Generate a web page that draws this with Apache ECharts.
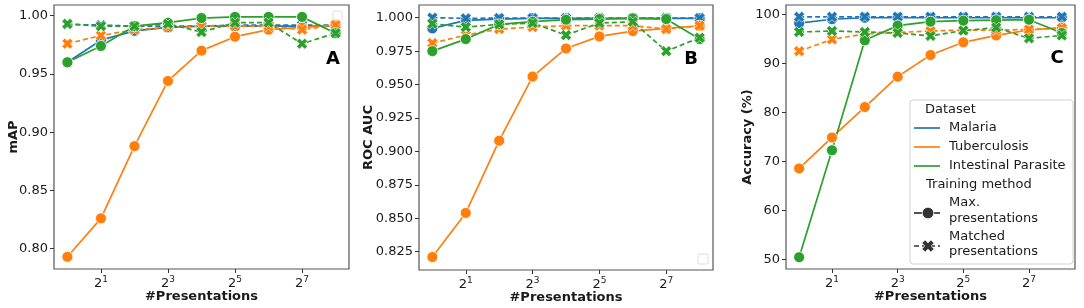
<!DOCTYPE html>
<html>
<head>
<meta charset="utf-8">
<script src="https://cdn.jsdelivr.net/npm/echarts@6/dist/echarts.min.js"></script>
<style>
  html, body { margin: 0; padding: 0; background: #fff; }
  #chart { width: 1084px; height: 308px; }
</style>
</head>
<body>
<div id="chart"></div>
<script>
// number of presentations (x), drawn on a log2 scale
const presentations = [1, 2, 4, 8, 16, 32, 64, 128, 256];
const datasets = ['Malaria', 'Tuberculosis', 'Intestinal Parasite'];
const colors = ['#1f77b4', '#ff7f0e', '#2ca02c'];
const xTickExps = [1, 3, 5, 7];

// A - mAP
const mapMalariaMax     = [0.960, 0.979, 0.987, 0.990, 0.991, 0.991, 0.991, 0.991, 0.991];
const mapMalariaMatched = [0.9925, 0.992, 0.991, 0.991, 0.991, 0.992, 0.992, 0.992, 0.992];
const mapTbMax          = [0.793, 0.826, 0.888, 0.944, 0.970, 0.982, 0.988, 0.990, 0.992];
const mapTbMatched      = [0.976, 0.983, 0.988, 0.990, 0.991, 0.991, 0.991, 0.988, 0.992];
const mapIpMax          = [0.960, 0.974, 0.991, 0.994, 0.998, 0.999, 0.999, 0.999, 0.985];
const mapIpMatched      = [0.993, 0.991, 0.991, 0.993, 0.986, 0.994, 0.994, 0.976, 0.985];
const mapTicks = [0.80, 0.85, 0.90, 0.95, 1.00];

// B - ROC AUC
const aucMalariaMax     = [0.992, 0.998, 0.999, 0.9995, 0.9995, 0.9995, 0.9995, 0.9995, 0.9995];
const aucMalariaMatched = [1.000, 0.9995, 0.9997, 0.9997, 0.9997, 0.9997, 0.9997, 0.9997, 0.9997];
const aucTbMax          = [0.821, 0.854, 0.908, 0.956, 0.977, 0.986, 0.990, 0.992, 0.994];
const aucTbMatched      = [0.981, 0.987, 0.9915, 0.993, 0.994, 0.994, 0.994, 0.9915, 0.994];
const aucIpMax          = [0.975, 0.984, 0.995, 0.997, 0.9985, 0.999, 0.9995, 0.999, 0.984];
const aucIpMatched      = [0.9955, 0.993, 0.995, 0.996, 0.987, 0.996, 0.997, 0.975, 0.985];
const aucTicks = [0.825, 0.850, 0.875, 0.900, 0.925, 0.950, 0.975, 1.000];

// C - Accuracy (%)
const accMalariaMax     = [98.2, 99.0, 99.3, 99.3, 99.3, 99.3, 99.3, 99.3, 99.3];
const accMalariaMatched = [99.5, 99.5, 99.5, 99.5, 99.5, 99.5, 99.5, 99.5, 99.5];
const accTbMax          = [68.6, 74.9, 81.1, 87.3, 91.7, 94.3, 95.7, 96.8, 97.3];
const accTbMatched      = [92.5, 94.9, 96.0, 96.3, 96.6, 96.8, 96.8, 96.9, 97.2];
const accIpMax          = [50.5, 72.3, 94.7, 97.7, 98.5, 98.7, 98.8, 98.9, 96.2];
const accIpMatched      = [96.4, 96.6, 96.4, 96.2, 95.6, 96.7, 97.3, 95.1, 95.7];
const accTicks = [50, 60, 70, 80, 90, 100];

const FONT = 'DejaVu Sans';
const TXT = '#1a1a1a';
const xSymbol = 'path://M0,2.6 L2.6,0 L5,2.4 L7.4,0 L10,2.6 L7.6,5 L10,7.4 L7.4,10 L5,7.6 L2.6,10 L0,7.4 L2.4,5 Z';
const xPoly = [[0,2.6],[2.6,0],[5,2.4],[7.4,0],[10,2.6],[7.6,5],[10,7.4],[7.4,10],[5,7.6],[2.6,10],[0,7.4],[2.4,5]];

var chart = echarts.init(document.getElementById('chart'));

var grids = [
  { left: 54, top: 5, width: 295, height: 264 },
  { left: 419, top: 5, width: 294, height: 265 },
  { left: 786, top: 5, width: 289, height: 264 }
];

function toPoints(vals) {
  return presentations.map((p, i) => [Math.log2(p), vals[i]]);
}

function makeSeries(gi, panel) {
  var out = [];
  panel.forEach(function (pair, d) {
    out.push({
      type: 'line', xAxisIndex: gi, yAxisIndex: gi,
      name: datasets[d] + ' max',
      data: toPoints(pair[0]),
      symbol: 'circle', symbolSize: 11,
      lineStyle: { color: colors[d], width: 1.7 },
      itemStyle: { color: colors[d], borderColor: '#fff', borderWidth: 0.8 },
      animation: false
    });
    out.push({
      type: 'line', xAxisIndex: gi, yAxisIndex: gi,
      name: datasets[d] + ' matched',
      data: toPoints(pair[1]),
      symbol: xSymbol, symbolSize: 11,
      lineStyle: { color: colors[d], width: 1.7, type: [5, 3] },
      itemStyle: { color: colors[d], borderColor: '#fff', borderWidth: 0.6 },
      animation: false
    });
  });
  return out;
}

function xAxisFor(gi) {
  return {
    type: 'value', gridIndex: gi, min: -0.4, max: 8.4,
    name: '#Presentations', nameLocation: 'middle', nameGap: 21, nameMoveOverlap: false,
    nameTextStyle: { fontFamily: FONT, fontSize: 13, fontWeight: 'bold', color: TXT },
    axisLine: { show: false, onZero: false },
    splitLine: { show: false },
    axisTick: { show: true, inside: false, customValues: xTickExps, length: 4, lineStyle: { color: '#333' } },
    axisLabel: {
      customValues: xTickExps, margin: 6,
      formatter: function (v) { return '{b|2}{s|' + v + '}'; },
      rich: {
        b: { fontFamily: FONT, fontSize: 13, color: TXT },
        s: { fontFamily: FONT, fontSize: 9, color: TXT, padding: [0, 0, 9, 0] }
      }
    }
  };
}

function yAxisFor(gi, name, min, max, ticks, digits, gap) {
  return {
    type: 'value', gridIndex: gi, min: min, max: max,
    name: name, nameLocation: 'middle', nameGap: gap, nameMoveOverlap: false,
    nameTextStyle: { fontFamily: FONT, fontSize: 13, fontWeight: 'bold', color: TXT },
    axisLine: { show: false, onZero: false },
    splitLine: { show: false },
    axisTick: { show: true, inside: false, customValues: ticks, length: 4, lineStyle: { color: '#333' } },
    axisLabel: {
      customValues: ticks, margin: 6,
      fontFamily: FONT, fontSize: 13, color: TXT,
      formatter: function (v) { return v.toFixed(digits); }
    }
  };
}

var series = []
  .concat(makeSeries(0, [[mapMalariaMax, mapMalariaMatched], [mapTbMax, mapTbMatched], [mapIpMax, mapIpMatched]]))
  .concat(makeSeries(1, [[aucMalariaMax, aucMalariaMatched], [aucTbMax, aucTbMatched], [aucIpMax, aucIpMatched]]))
  .concat(makeSeries(2, [[accMalariaMax, accMalariaMatched], [accTbMax, accTbMatched], [accIpMax, accIpMatched]]));

// legend drawn by hand (seaborn style, two titled groups)
var lgX = 910, lgY = 100;
var legendEls = [
  { type: 'rect', shape: { x: lgX, y: lgY, width: 163, height: 164, r: 3 },
    style: { fill: 'rgba(255,255,255,0.85)', stroke: '#d0d0d0', lineWidth: 1 }, z: 100 }
];
function lgText(txt, x, y) {
  legendEls.push({ type: 'text', x: x, y: y, z: 101,
    style: { text: txt, fontFamily: FONT, fontSize: 13, fill: TXT, verticalAlign: 'middle' } });
}
lgText('Dataset', 925, 110);
datasets.forEach(function (d, i) {
  var yy = 128 + i * 19;
  legendEls.push({ type: 'line', z: 101, shape: { x1: 914, y1: yy, x2: 940, y2: yy },
    style: { stroke: colors[i], lineWidth: 1.7 } });
  lgText(d, 949, yy);
});
lgText('Training method', 926, 185);
legendEls.push({ type: 'line', z: 101, shape: { x1: 914, y1: 213, x2: 940, y2: 213 },
  style: { stroke: '#333', lineWidth: 1.7 } });
legendEls.push({ type: 'circle', z: 102, shape: { cx: 928, cy: 213, r: 5.8 },
  style: { fill: '#333', stroke: '#fff', lineWidth: 0.8 } });
lgText('Max.', 949, 203);
lgText('presentations', 949, 219);
legendEls.push({ type: 'line', z: 101, shape: { x1: 914, y1: 246, x2: 940, y2: 246 },
  style: { stroke: '#333', lineWidth: 1.7, lineDash: [5, 3] } });
legendEls.push({ type: 'polygon', z: 102,
  shape: { points: xPoly.map(function (p) { return [922 + p[0] * 1.2, 240 + p[1] * 1.2]; }) },
  style: { fill: '#333', stroke: '#fff', lineWidth: 0.6 } });
lgText('Matched', 949, 237);
lgText('presentations', 949, 252);

// panel letters and empty legend boxes
function letter(t, x, y) {
  return { type: 'text', x: x, y: y, z: 50,
    style: { text: t, fontFamily: FONT, fontSize: 18, fontWeight: 'bold', fill: '#000', align: 'center', verticalAlign: 'middle' } };
}
var extras = [
  letter('A', 333, 59), letter('B', 691, 59), letter('C', 1057, 58),
  { type: 'rect', z: 50, shape: { x: 333, y: 11, width: 9, height: 9, r: 1.5 }, style: { fill: '#fff', stroke: '#ddd', lineWidth: 1 } },
  { type: 'rect', z: 50, shape: { x: 698, y: 254, width: 10, height: 10, r: 1.5 }, style: { fill: '#fff', stroke: '#ddd', lineWidth: 1 } }
];

var option = {
  backgroundColor: '#fff',
  animation: false,
  grid: grids.map(function (g) {
    return Object.assign({ show: true, borderColor: '#555', borderWidth: 1.2, backgroundColor: '#fff',
      containLabel: false, outerBoundsMode: 'none' }, g);
  }),
  xAxis: [xAxisFor(0), xAxisFor(1), xAxisFor(2)],
  yAxis: [
    yAxisFor(0, 'mAP', 0.7825, 1.0092, mapTicks, 2, 34),
    yAxisFor(1, 'ROC AUC', 0.8113, 1.0095, aucTicks, 3, 44),
    yAxisFor(2, 'Accuracy (%)', 48.1, 101.9, accTicks, 0, 32)
  ],
  series: series,
  graphic: extras.concat(legendEls)
};

chart.setOption(option);
</script>
</body>
</html>
